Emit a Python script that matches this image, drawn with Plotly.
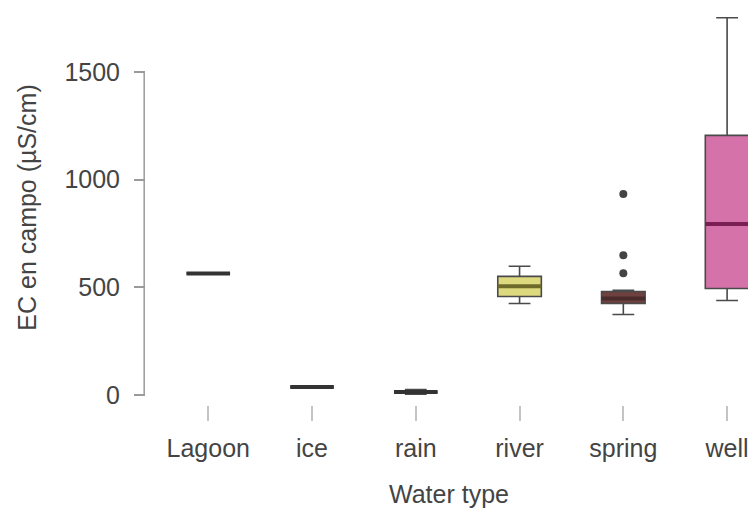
import plotly.graph_objects as go

# water types along the x axis
categories = ['Lagoon', 'ice', 'rain', 'river', 'spring', 'well']

# box statistics (EC en campo, µS/cm)
q1 = [565, 37, 14, 458, 425, 495]
median = [565, 37, 14, 505, 449, 794]
q3 = [565, 37, 14, 551, 481, 1206]
lower_fence = [565, 37, 4, 425, 374, 439]
upper_fence = [565, 37, 26, 598, 486, 1752]

fill_colors = ['#3a3a3a', '#3a3a3a', '#3a3a3a', '#dcd97e', '#6e4040', '#d672aa']
median_colors = ['#333333', '#333333', '#333333', '#6e6b2a', '#4a2a2a', '#7a1f55']

spring_outliers = [566, 649, 934]

FONT = 'Liberation Sans, Arial, sans-serif'

fig = go.Figure()

for i, cat in enumerate(categories):
    # the box itself
    fig.add_trace(go.Box(
        x=[cat],
        q1=[q1[i]],
        median=[median[i]],
        q3=[q3[i]],
        lowerfence=[lower_fence[i]],
        upperfence=[upper_fence[i]],
        width=0.42,
        whiskerwidth=0.5,
        fillcolor=fill_colors[i],
        line=dict(color='#4a4a4a', width=1.6),
        boxpoints=False,
        hoverinfo='skip',
        showlegend=False
    ))
    # thick median line drawn as a flat box
    fig.add_trace(go.Box(
        x=[cat],
        q1=[median[i]],
        median=[median[i]],
        q3=[median[i]],
        lowerfence=[median[i]],
        upperfence=[median[i]],
        width=0.42,
        whiskerwidth=0,
        fillcolor='rgba(0,0,0,0)',
        line=dict(color=median_colors[i], width=4),
        boxpoints=False,
        hoverinfo='skip',
        showlegend=False
    ))

fig.add_trace(go.Scatter(
    x=['spring'] * len(spring_outliers),
    y=spring_outliers,
    mode='markers',
    marker=dict(color='#444444', size=8),
    hoverinfo='skip',
    showlegend=False
))

# R style y axis line that stops at the last tick
fig.add_shape(
    type='line', xref='paper', yref='y',
    x0=-0.003, x1=-0.003, y0=0, y1=1500,
    line=dict(color='#9a9a9a', width=1.5)
)

fig.update_layout(
    width=756,
    height=515,
    margin=dict(l=138, r=12, t=2, b=118),
    paper_bgcolor='white',
    plot_bgcolor='white',
    font=dict(family=FONT, size=25, color='#444444'),
    boxmode='overlay',
    xaxis=dict(
        type='category',
        categoryorder='array',
        categoryarray=categories,
        range=[-0.6, 5.24],
        showline=False,
        showgrid=False,
        zeroline=False,
        ticks='outside',
        ticklen=15,
        tickwidth=1.5,
        tickcolor='#c4c4c4',
        ticklabelstandoff=6,
        automargin=False,
        title=dict(text='Water type', standoff=24, font=dict(size=25, color='#444444'))
    ),
    yaxis=dict(
        range=[-46, 1788],
        tickvals=[0, 500, 1000, 1500],
        showline=False,
        showgrid=False,
        zeroline=False,
        ticks='outside',
        ticklen=11,
        tickwidth=1.5,
        tickcolor='#9a9a9a',
        ticklabelstandoff=9,
        automargin=False,
        title=dict(text='EC en campo (µS/cm)', standoff=20, font=dict(size=25, color='#444444'))
    )
)

fig.write_html("out.html")
